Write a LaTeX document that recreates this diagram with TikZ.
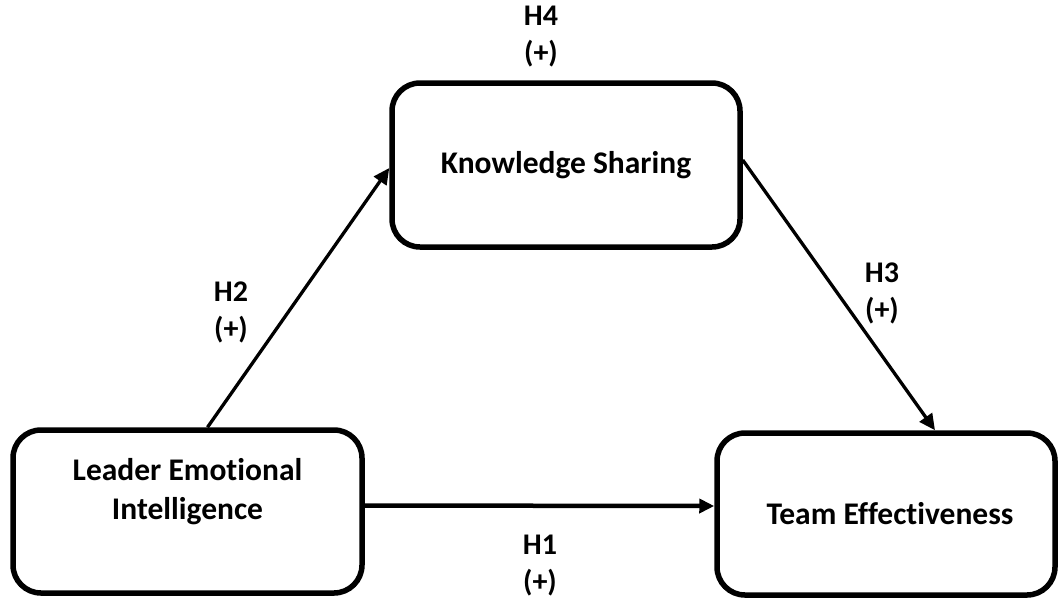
\documentclass[tikz,border=0pt]{standalone}
\usepackage{fontspec}
\setmainfont[Ligatures=NoCommon]{Carlito}
\usetikzlibrary{arrows.meta}
\tikzset{
  box/.style={draw=black, line width=5.5pt, rounded corners=28pt, fill=white, inner sep=0pt},
  boxtext/.style={font=\bfseries\fontsize{31.5}{39}\selectfont, align=center, inner sep=0pt},
  hlabel/.style={font=\bfseries\fontsize{30}{37}\selectfont, align=center, inner sep=0pt},
  arr/.style={draw=black, line width=3.3pt, -{Triangle[length=16pt,width=15pt]}},
  harr/.style={arr, line width=4.5pt, -{Triangle[length=15pt,width=14pt]}}
}
\begin{document}
\begin{tikzpicture}[x=1pt,y=-1pt]
\useasboundingbox (0,0) rectangle (1058,598);
\node[box, minimum width=348pt, minimum height=164pt] (ks) at (566,165) {};
\node[box, minimum width=349pt, minimum height=163pt] (lei) at (187.5,511.5) {};
\node[box, minimum width=338pt, minimum height=162pt] (te) at (886,514) {};
\node[boxtext] (kst) at (566,165) {Knowledge Sharing};
\node[boxtext] (leit) at (187.5,492) {Leader Emotional\\Intelligence};
\node[boxtext] (tet) at (890,514) {Team Effectiveness};
\draw[arr] ([xshift=20pt]lei.north) -- ([yshift=-3pt]ks.west);
\draw[arr] ([yshift=5pt]ks.east) -- ([xshift=49pt]te.north);
\draw[harr] ([yshift=6pt]lei.east) -- ([yshift=8pt]te.west);
\node[hlabel] (h4) at (541,37) {H4\\(+)};
\node[hlabel] (h2) at (231,312) {H2\\(+)};
\node[hlabel] (h3) at (882,293) {H3\\(+)};
\node[hlabel] (h1) at (540,566) {H1\\(+)};
\end{tikzpicture}
\end{document}
